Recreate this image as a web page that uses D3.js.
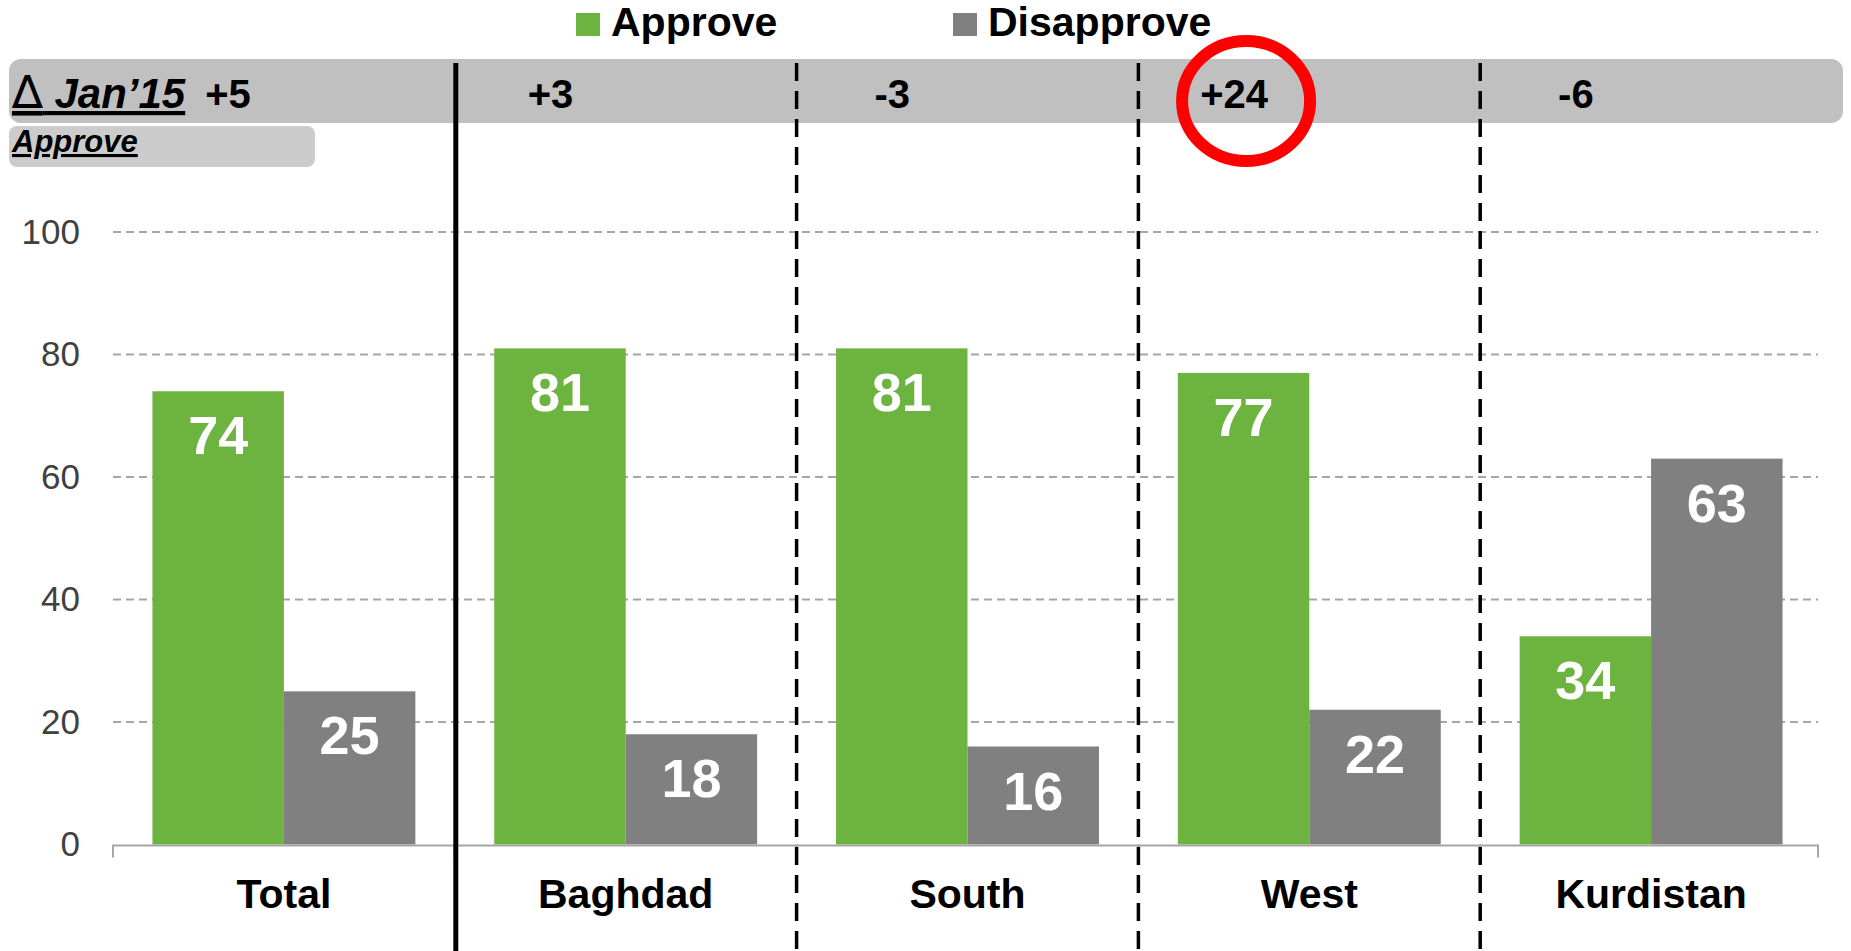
<!DOCTYPE html>
<html>
<head>
<meta charset="utf-8">
<script src="https://cdn.jsdelivr.net/npm/d3@7/dist/d3.min.js"></script>
<style>
  html, body { margin: 0; padding: 0; background: #fff; }
  svg { display: block; font-family: "Liberation Sans", Arial, sans-serif; }
</style>
</head>
<body>
<script>
// ---- data ----
const categories = ["Total", "Baghdad", "South", "West", "Kurdistan"];
const seriesNames = ["Approve", "Disapprove"];
const approveValues = [74, 81, 81, 77, 34];
const disapproveValues = [25, 18, 16, 22, 63];
const deltaJan15 = ["+5", "+3", "-3", "+24", "-6"];
const yTicks = [0, 20, 40, 60, 80, 100];
const highlighted = "West";

const colors = { Approve: "#6db33f", Disapprove: "#808080" };

const W = 1851, H = 951;
const svg = d3.select("body").append("svg").attr("width", W).attr("height", H);

const x0 = d3.scaleBand().domain(categories).range([113, 1822]);
const bw = x0.bandwidth();
const x1 = d3.scaleBand().domain(seriesNames).range([0, bw]).paddingInner(0).paddingOuter(0.3);
const y = d3.scaleLinear().domain([0, 100]).range([844.5, 232]);

// ---- top band ----
svg.append("rect").attr("x", 9).attr("y", 59).attr("width", 1834).attr("height", 64)
  .attr("rx", 12).attr("fill", "#c0c0c0");
svg.append("rect").attr("x", 9).attr("y", 126).attr("width", 306).attr("height", 41)
  .attr("rx", 8).attr("fill", "#cccccc");

const head = svg.append("text").attr("x", 12).attr("y", 108)
  .attr("font-size", 42).attr("font-weight", "bold").attr("font-style", "italic")
  .attr("text-decoration", "underline").attr("fill", "#000");
head.append("tspan").attr("font-weight", "normal").attr("font-family", "DejaVu Sans")
  .attr("font-size", 46).text("\u2206");
head.append("tspan").text(" Jan\u201915");
const headEnd = 12 + head.node().getComputedTextLength();

svg.append("text").attr("x", 12).attr("y", 152)
  .attr("font-size", 31).attr("font-weight", "bold").attr("font-style", "italic")
  .attr("text-decoration", "underline").attr("fill", "#000")
  .text("Approve");

const deltas = svg.append("g").selectAll("text").data(categories).join("text")
  .attr("y", 108)
  .attr("text-anchor", "middle")
  .attr("font-size", 40).attr("font-weight", "bold").attr("fill", "#000")
  .text((c, i) => deltaJan15[i]);
const deltaPos = {};
deltas.each(function (c) {
  const w = this.getComputedTextLength();
  const cx = Math.max(x0(c) + bw * 0.28, headEnd + 20 + w / 2);
  deltaPos[c] = cx;
  d3.select(this).attr("x", cx);
});

// ---- legend ----
const legend = svg.append("g");
const legendX = { Approve: 576, Disapprove: 953 };
seriesNames.forEach(s => {
  legend.append("rect").attr("x", legendX[s]).attr("y", 13).attr("width", 24).attr("height", 23)
    .attr("fill", colors[s]);
  legend.append("text").attr("x", legendX[s] + 35).attr("y", 36)
    .attr("font-size", 41).attr("font-weight", "bold").attr("fill", "#000")
    .text(s);
});

// ---- gridlines ----
svg.append("g").selectAll("line").data(yTicks.filter(t => t > 0)).join("line")
  .attr("x1", x0.range()[0]).attr("x2", x0.range()[1] - 4)
  .attr("y1", d => y(d)).attr("y2", d => y(d))
  .attr("stroke", "#a6a6a6").attr("stroke-width", 2).attr("stroke-dasharray", "8,5");

// ---- y axis labels ----
const yAxis = d3.axisLeft(y).tickValues(yTicks).tickSize(0).tickPadding(0);
const yg = svg.append("g").attr("transform", "translate(80,0)").call(yAxis);
yg.select(".domain").remove();
yg.selectAll("text").attr("font-size", 35).attr("fill", "#404040")
  .attr("font-family", "Liberation Sans, Arial, sans-serif");

// ---- bars ----
const groups = svg.append("g").selectAll("g").data(categories).join("g")
  .attr("transform", c => `translate(${x0(c)},0)`);
const rows = (c, i) => [
  { s: "Approve", v: approveValues[i] },
  { s: "Disapprove", v: disapproveValues[i] }
];
groups.selectAll("rect").data(rows).join("rect")
  .attr("x", d => x1(d.s)).attr("width", x1.bandwidth())
  .attr("y", d => y(d.v)).attr("height", d => y(0) - y(d.v))
  .attr("fill", d => colors[d.s]);
groups.selectAll("text").data(rows).join("text")
  .attr("x", d => x1(d.s) + x1.bandwidth() / 2)
  .attr("y", d => y(d.v) + 63)
  .attr("text-anchor", "middle")
  .attr("font-size", 54).attr("font-weight", "bold").attr("fill", "#fff")
  .text(d => d.v);

// ---- x axis ----
const xa = svg.append("g");
xa.append("line").attr("x1", x0.range()[0]).attr("x2", x0.range()[1] - 4)
  .attr("y1", y(0) + 1).attr("y2", y(0) + 1).attr("stroke", "#a6a6a6").attr("stroke-width", 2);
const bounds = categories.map(c => x0(c)).concat([x0.range()[1] - 4]);
xa.selectAll("line.tk").data(bounds).join("line").attr("class", "tk")
  .attr("x1", d => d).attr("x2", d => d).attr("y1", y(0)).attr("y2", y(0) + 13)
  .attr("stroke", "#a6a6a6").attr("stroke-width", 2);
xa.selectAll("text").data(categories).join("text")
  .attr("x", c => x0(c) + bw / 2).attr("y", 908)
  .attr("text-anchor", "middle")
  .attr("font-size", 41).attr("font-weight", "bold").attr("fill", "#000")
  .text(c => c);

// ---- separators ----
svg.append("g").selectAll("line").data(categories.slice(1)).join("line")
  .attr("x1", c => x0(c) + (c === "Baghdad" ? 1 : 0))
  .attr("x2", c => x0(c) + (c === "Baghdad" ? 1 : 0))
  .attr("y1", 63).attr("y2", H)
  .attr("stroke", "#000")
  .attr("stroke-width", c => c === "Baghdad" ? 5 : 3.5)
  .attr("stroke-dasharray", c => c === "Baghdad" ? null : "18,10");

// ---- highlight ellipse ----
svg.append("ellipse")
  .attr("cx", deltaPos[highlighted] + 12).attr("cy", 101)
  .attr("rx", 64).attr("ry", 60)
  .attr("fill", "none").attr("stroke", "#ff0000").attr("stroke-width", 12);
</script>
</body>
</html>
